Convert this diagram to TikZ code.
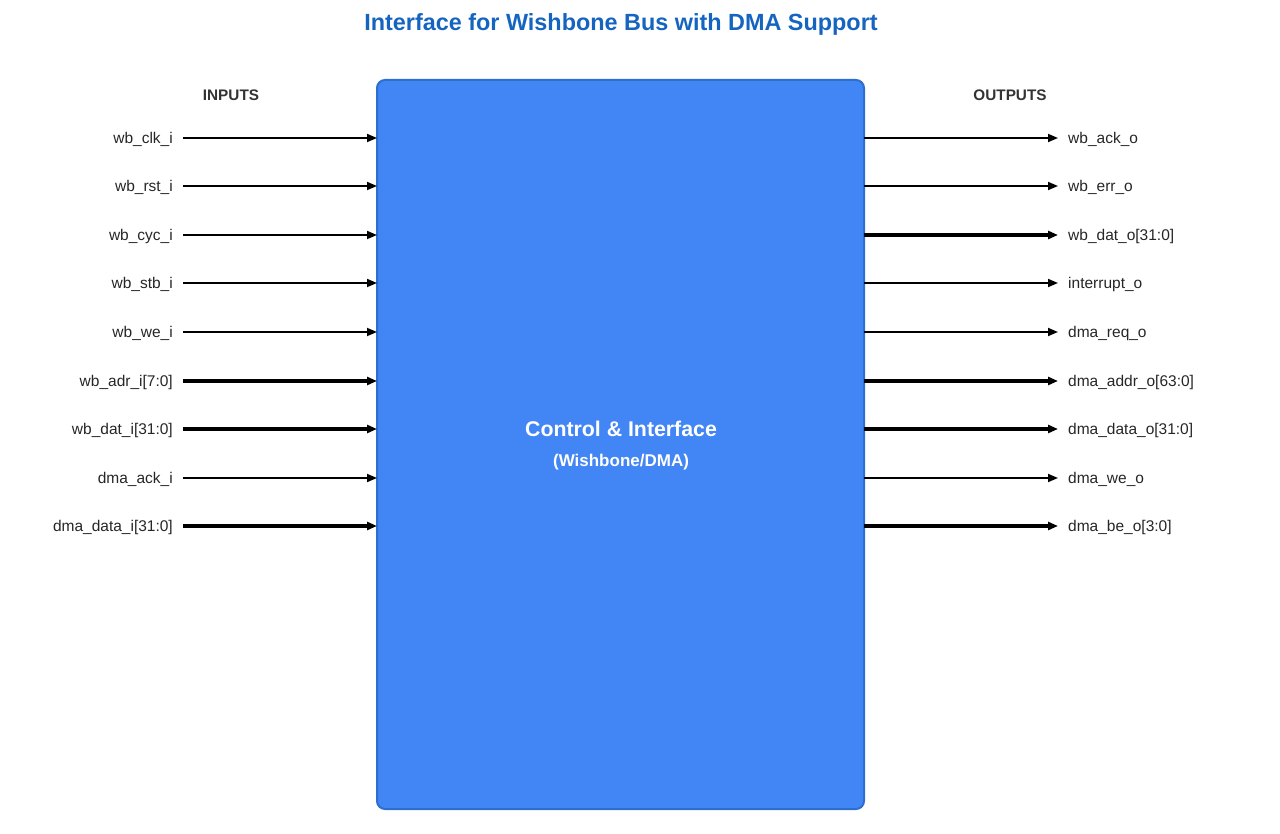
\documentclass[tikz,border=0pt]{standalone}
\usepackage{fontspec}
\setmainfont{Liberation Sans}
\usetikzlibrary{arrows.meta}
\definecolor{titleblue}{HTML}{1565C0}
\definecolor{boxfill}{HTML}{4285F4}
\definecolor{boxdraw}{HTML}{2C6FD1}
\definecolor{headgray}{HTML}{333333}
\tikzset{
  sig/.style={draw=black, line width=1.7pt, -{Triangle[length=10pt,width=8pt]}},
  bus/.style={draw=black, line width=3.6pt, -{Triangle[length=10pt,width=8pt]}},
  inlabel/.style={anchor=east, inner sep=0pt, font=\fontsize{15.5}{18}\selectfont, text=black!85},
  outlabel/.style={anchor=west, inner sep=0pt, font=\fontsize{15.5}{18}\selectfont, text=black!85},
  heading/.style={inner sep=0pt, font=\bfseries\fontsize{15.3}{18}\selectfont, text=headgray},
  block/.style={draw=boxdraw, fill=boxfill, line width=2pt, rounded corners=8pt},
}
\begin{document}
\begin{tikzpicture}[x=1pt,y=-1pt]
\useasboundingbox (0,0) rectangle (1280,834);
\node[font=\bfseries\fontsize{23.4}{28}\selectfont, text=titleblue] (title) at (621,24) {Interface for Wishbone Bus with DMA Support};
\node[heading] (inh) at (231,95) {INPUTS};
\node[heading] (outh) at (1010,95) {OUTPUTS};
\draw[block] (377,80) rectangle (864,809);
\node[text=white, font=\bfseries\fontsize{21.3}{26}\selectfont] (ctl) at (621,429) {Control \& Interface};
\node[text=white, font=\bfseries\fontsize{17}{20}\selectfont] (sub) at (621,462) {(Wishbone/DMA)};
% inputs
\foreach \y/\t/\s/\n in {138/wb\_clk\_i/sig/i1, 186/wb\_rst\_i/sig/i2, 235/wb\_cyc\_i/sig/i3, 283/wb\_stb\_i/sig/i4, 332/wb\_we\_i/sig/i5, 381/{wb\_adr\_i[7:0]}/bus/i6, 429/{wb\_dat\_i[31:0]}/bus/i7, 478/dma\_ack\_i/sig/i8, 526/{dma\_data\_i[31:0]}/bus/i9}{
  \node[inlabel] (\n) at (173,\y+1) {\t};
  \coordinate (\n s) at (183,\y);
  \coordinate (\n e) at (377,\y);
  \draw[\s] (\n s) -- (\n e);
}
% outputs
\foreach \y/\t/\s/\n in {138/wb\_ack\_o/sig/o1, 186/wb\_err\_o/sig/o2, 235/{wb\_dat\_o[31:0]}/bus/o3, 283/interrupt\_o/sig/o4, 332/dma\_req\_o/sig/o5, 381/{dma\_addr\_o[63:0]}/bus/o6, 429/{dma\_data\_o[31:0]}/bus/o7, 478/dma\_we\_o/sig/o8, 526/{dma\_be\_o[3:0]}/bus/o9}{
  \node[outlabel] (\n) at (1068,\y+1) {\t};
  \coordinate (\n s) at (864,\y);
  \coordinate (\n e) at (1058,\y);
  \draw[\s] (\n s) -- (\n e);
}
\end{tikzpicture}
\end{document}
